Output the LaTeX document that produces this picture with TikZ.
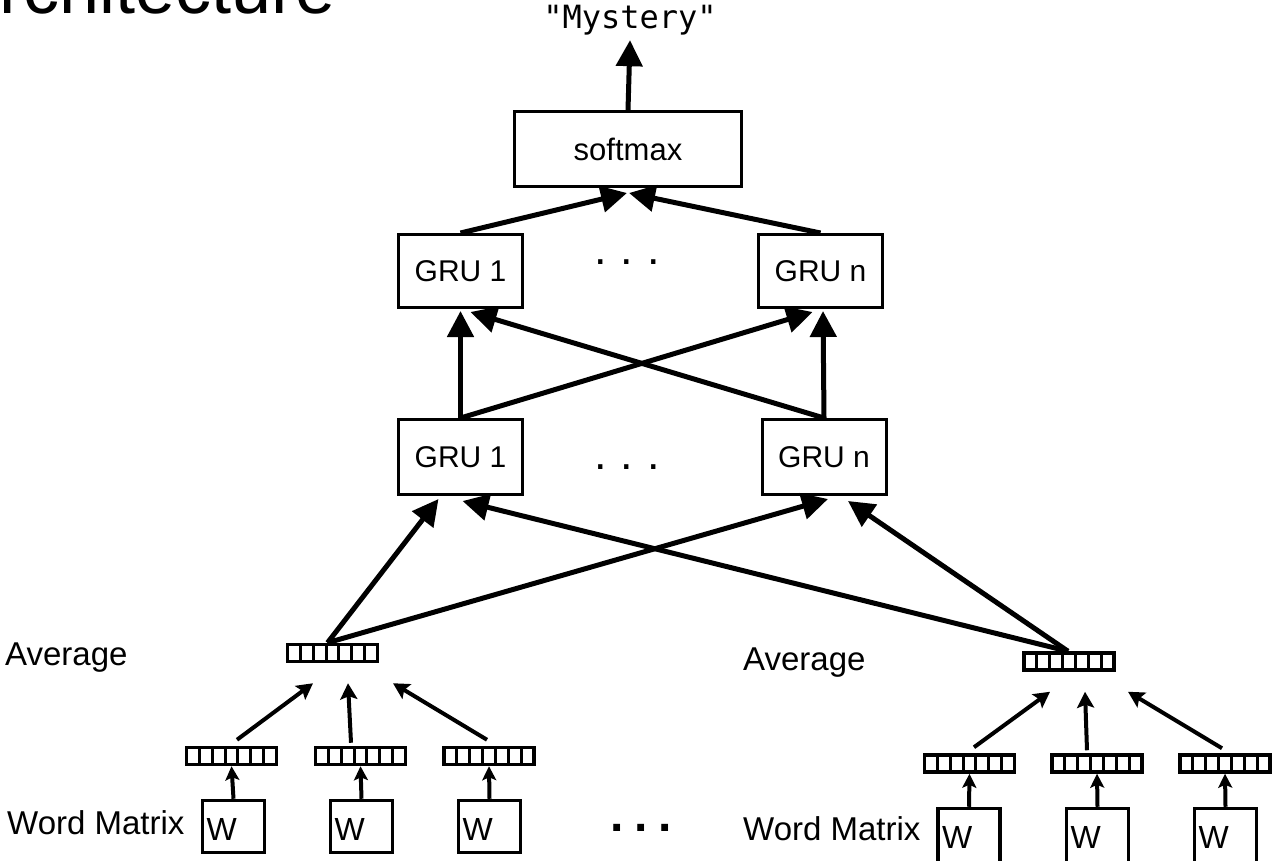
\documentclass[tikz,border=0pt]{standalone}
\usepackage{fontspec}
\setmainfont{Liberation Sans}
\newfontfamily\quotefont{DejaVu Sans Mono}
\usepackage{tikz}
\usetikzlibrary{arrows.meta}

\tikzset{
	box/.style={draw, line width=3pt, inner sep=0pt, font=\fontsize{30}{32}\selectfont},
	vec/.style={draw, line width=3.5pt, inner sep=0pt, minimum width=90pt, minimum height=17pt,
		path picture={\foreach \k in {1,...,6}
			\draw[line width=3pt] ([xshift={\k*12.86pt}]path picture bounding box.south west)
			-- ([xshift={\k*12.86pt}]path picture bounding box.north west);}},
	wbox/.style={draw, line width=3.5pt, inner xsep=4pt, inner ysep=0pt, text width=54pt,
		text height=40pt, text depth=12pt, align=left, font=\fontsize{32}{34}\selectfont},
	lbl/.style={anchor=base west, inner sep=0pt, font=\fontsize{33}{36}\selectfont},
	big/.style={line width=5pt, -{Triangle[width=26pt,length=26pt]}},
	small/.style={line width=4pt, -{Stealth[width=17pt,length=16pt,inset=3pt]}},
	tiny/.style={line width=4pt, -{Stealth[width=14pt,length=14pt,inset=3pt]}}
}

\begin{document}
\begin{tikzpicture}[x=1pt,y=-1pt]
		\useasboundingbox (0,0) rectangle (1273,861);
		\clip (0,0) rectangle (1273,861);
		\node[anchor=base east, inner sep=0pt, font=\fontsize{72}{78}\selectfont] (title) at (336,14) {Architecture};
		%
		\node[inner sep=0pt, font=\quotefont\fontsize{32}{34}\selectfont] (out) at (630,20) {\char34 Mystery\char34};
		\node[box, minimum width=227pt, minimum height=75pt, font=\fontsize{31}{34}\selectfont] (soft) at (628,149) {softmax};
		%
		\node[box, minimum width=124pt, minimum height=73pt] (g1t) at (460.5,271) {GRU 1};
		\node[box, minimum width=124pt, minimum height=73pt] (gnt) at (820.5,271) {GRU n};
		\node[inner sep=0pt, font=\fontsize{45}{48}\selectfont] (dotst) at (627,262) {.\hspace{14pt}.\hspace{14pt}.};
		\node[box, minimum width=124pt, minimum height=75pt] (g1b) at (460.5,457) {GRU 1};
		\node[box, minimum width=124pt, minimum height=75pt] (gnb) at (824,457) {GRU n};
		\node[inner sep=0pt, font=\fontsize{45}{48}\selectfont] (dotsb) at (627,467) {.\hspace{14pt}.\hspace{14pt}.};
		%
		\node[lbl] (avglabL) at (5,665) {Average};
		\node[lbl] (avglabR) at (743,670) {Average};
		\node[lbl] (wmlabL) at (7,834) {Word Matrix};
		\node[lbl] (wmlabR) at (743,840) {Word Matrix};
		%
		\node[vec] (avgL) at (332.5,653) {};
		\node[vec] (avgR) at (1069,661.5) {};
		\node[vec] (v1) at (231.5,756) {};
		\node[vec] (v2) at (360.5,756) {};
		\node[vec] (v3) at (489,756) {};
		\node[vec] (v4) at (969.5,763.5) {};
		\node[vec] (v5) at (1097,763.5) {};
		\node[vec] (v6) at (1225,763.5) {};
		%
		\node[wbox] (w1) at (233.5,826.5) {W};
		\node[wbox] (w2) at (361.5,826.5) {W};
		\node[wbox] (w3) at (489.5,826.5) {W};
		\node[wbox, text depth=20pt] (w4) at (969,838.5) {W};
		\node[wbox, text depth=20pt] (w5) at (1097.5,838.5) {W};
		\node[wbox, text depth=20pt] (w6) at (1225.5,838.5) {W};
		\node[inner sep=0pt, font=\bfseries\fontsize{48}{50}\selectfont] (dotsw) at (641,828) {.\hspace{11pt}.\hspace{11pt}.};
		%
		\path[big]
		(soft.north) edge ([yshift=-5pt]out.south)
		(g1t.north) edge ([xshift=-1pt,yshift=-5pt]soft.south)
		(gnt.north) edge ([xshift=1pt,yshift=-5pt]soft.south)
		(g1b.north) edge ([yshift=-2pt]g1t.south)
		(g1b.north) edge ([xshift=-8pt,yshift=-3pt]gnt.south)
		(gnb.north) edge ([xshift=2.5pt,yshift=-2pt]gnt.south)
		(gnb.north) edge ([xshift=10pt,yshift=-3pt]g1t.south)
		([xshift=-5pt]avgL.north) edge ([xshift=-22pt,yshift=-3pt]g1b.south)
		([xshift=-5pt]avgL.north) edge ([xshift=4pt,yshift=-3pt]gnb.south)
		([xshift=-1pt]avgR.north) edge ([xshift=2pt,yshift=-5pt]g1b.south)
		([xshift=-1pt]avgR.north) edge ([xshift=24pt,yshift=-5pt]gnb.south);
		%
		\path[small]
		([xshift=5.5pt,yshift=6pt]v1.north) edge ([xshift=-19.5pt,yshift=-20pt]avgL.south)
		([xshift=-9.5pt,yshift=3pt]v2.north) edge ([xshift=15.5pt,yshift=-20pt]avgL.south)
		([xshift=-2pt,yshift=6pt]v3.north) edge ([xshift=60.5pt,yshift=-20pt]avgL.south)
		([xshift=4.5pt,yshift=6pt]v4.north) edge ([xshift=-19pt,yshift=-20pt]avgR.south)
		([xshift=-10pt,yshift=3pt]v5.north) edge ([xshift=16pt,yshift=-20pt]avgR.south)
		([xshift=-3pt,yshift=5pt]v6.north) edge ([xshift=59pt,yshift=-20pt]avgR.south);
		%
		\path[tiny]
		(w1.north) edge (v1.south)
		(w2.north) edge (v2.south)
		(w3.north) edge (v3.south)
		(w4.north) edge (v4.south)
		(w5.north) edge (v5.south)
		(w6.north) edge (v6.south);
\end{tikzpicture}
\end{document}
